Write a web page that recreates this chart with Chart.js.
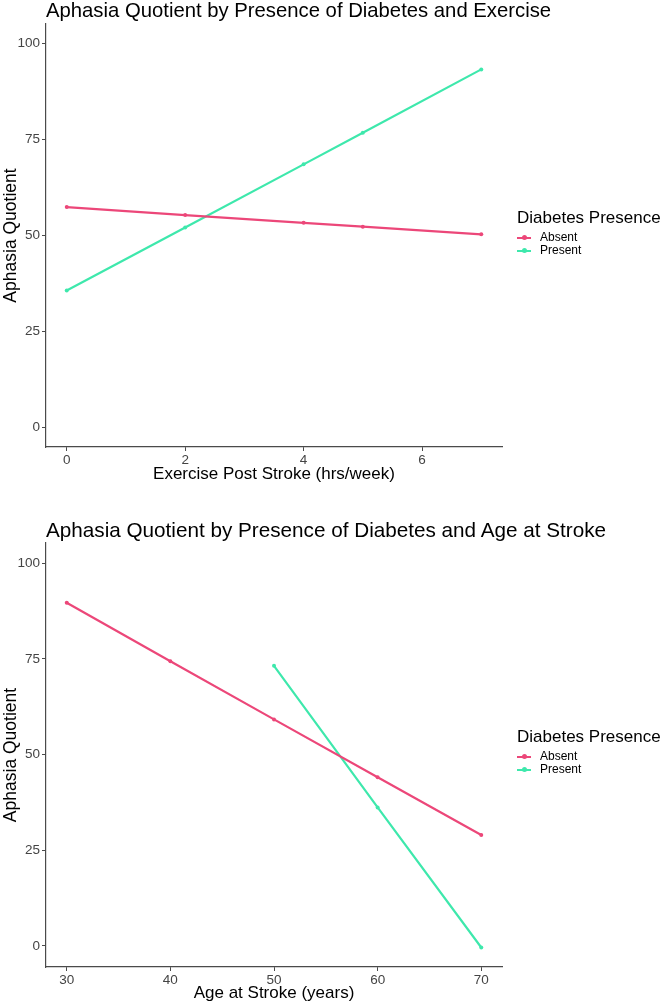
<!DOCTYPE html>
<html>
<head>
<meta charset="utf-8">
<script src="https://cdn.jsdelivr.net/npm/chart.js@4"></script>
<style>
  body { margin: 0; background: #fff; font-family: "Liberation Sans", Arial, sans-serif; overflow: hidden; }
  .panel { position: relative; width: 661px; }
  .title { position: absolute; left: 46px; font-size: 20.3px; line-height: 20px; color: #000; white-space: nowrap; }
  .legend { position: absolute; left: 517px; color: #000; }
  .legend .head { font-size: 17px; line-height: 20px; margin-bottom: 3px; }
  .legend .item { font-size: 12px; line-height: 13px; height: 13px; display: flex; align-items: center; }
  .legend .key { position: relative; width: 14px; height: 2px; margin-right: 9px; }
  .legend .key span { position: absolute; left: 5px; top: -1.5px; width: 5px; height: 5px; border-radius: 50%; }
</style>
</head>
<body>
<div class="panel" style="height:500px">
  <div class="title" style="top:0px">Aphasia Quotient by Presence of Diabetes and Exercise</div>
  <canvas id="exerciseChart" width="661" height="500"></canvas>
  <div class="legend" style="top:208px">
    <div class="head">Diabetes Presence</div>
    <div class="item"><div class="key" style="background:#ec4779"><span style="background:#ec4779"></span></div>Absent</div>
    <div class="item"><div class="key" style="background:#3ee8ac"><span style="background:#3ee8ac"></span></div>Present</div>
  </div>
</div>
<div class="panel" style="height:504px">
  <div class="title" style="top:20px; font-size:20.7px">Aphasia Quotient by Presence of Diabetes and Age at Stroke</div>
  <canvas id="ageChart" width="661" height="504"></canvas>
  <div class="legend" style="top:227px">
    <div class="head">Diabetes Presence</div>
    <div class="item"><div class="key" style="background:#ec4779"><span style="background:#ec4779"></span></div>Absent</div>
    <div class="item"><div class="key" style="background:#3ee8ac"><span style="background:#3ee8ac"></span></div>Present</div>
  </div>
</div>
<script>
// top chart: exercise hours
var exerciseHours = [0, 2, 4, 5, 7];
var exerciseAbsent = [57.4, 55.3, 53.3, 52.3, 50.3];
var exercisePresent = [35.7, 52.1, 68.5, 76.7, 93.2];
var exerciseTicks = [0, 2, 4, 6];

// bottom chart: age at stroke
var ageAbsentYears = [30, 40, 50, 60, 70];
var ageAbsent = [89.7, 74.4, 59.2, 44.1, 29.0];
var agePresentYears = [50, 60, 70];
var agePresent = [73.2, 36.2, -0.4];
var ageTicks = [30, 40, 50, 60, 70];

var quotientTicks = [0, 25, 50, 75, 100];

var absentColor = '#ec4779';
var presentColor = '#3ee8ac';
var fontFamily = '"Liberation Sans", Arial, sans-serif';

function toPoints(xs, ys) {
    return xs.map(function (x, i) { return { x: x, y: ys[i] }; });
}

function lineSet(label, xs, ys, color) {
    return {
        label: label,
        data: toPoints(xs, ys),
        borderColor: color,
        backgroundColor: color,
        borderWidth: 2.2,
        pointRadius: 2,
        pointHoverRadius: 2,
        pointBorderWidth: 0,
        tension: 0
    };
}

function makeChart(id, cfg) {
    var ctx = document.getElementById(id).getContext('2d');
    return new Chart(ctx, {
        type: 'line',
        data: {
            datasets: [
                lineSet('Absent', cfg.absentX, cfg.absentY, absentColor),
                lineSet('Present', cfg.presentX, cfg.presentY, presentColor)
            ]
        },
        options: {
            responsive: false,
            animation: false,
            devicePixelRatio: 1,
            layout: { padding: { left: 1, right: 159, top: cfg.top, bottom: cfg.bottom } },
            plugins: { legend: { display: false }, title: { display: false }, tooltip: { enabled: false } },
            scales: {
                x: {
                    type: 'linear',
                    min: cfg.xMin,
                    max: cfg.xMax,
                    afterBuildTicks: function (scale) {
                        scale.ticks = cfg.xTicks.map(function (v) { return { value: v }; });
                    },
                    afterFit: function (scale) { scale.height = cfg.xHeight; },
                    border: { display: true, color: '#4a4a4a', width: 1.2 },
                    grid: { drawOnChartArea: false, drawTicks: true, tickLength: 4, color: '#4a4a4a' },
                    ticks: { padding: 1, color: '#444', font: { family: fontFamily, size: 13.5 }, maxRotation: 0 },
                    title: {
                        display: true,
                        text: cfg.xTitle,
                        color: '#000',
                        padding: { top: 0, bottom: 0 },
                        font: { family: fontFamily, size: 17, lineHeight: 1 }
                    }
                },
                y: {
                    min: cfg.yMin,
                    max: cfg.yMax,
                    afterBuildTicks: function (scale) {
                        scale.ticks = quotientTicks.map(function (v) { return { value: v }; });
                    },
                    afterFit: function (scale) { scale.width = 45; },
                    border: { display: true, color: '#4a4a4a', width: 1.2 },
                    grid: { drawOnChartArea: false, drawTicks: true, tickLength: 4, color: '#4a4a4a' },
                    ticks: { padding: 2, color: '#444', font: { family: fontFamily, size: 13.5 } },
                    title: {
                        display: true,
                        text: 'Aphasia Quotient',
                        color: '#000',
                        padding: { top: 1, bottom: 0 },
                        font: { family: fontFamily, size: 17.5, lineHeight: 1 }
                    }
                }
            }
        }
    });
}

var exerciseChart = makeChart('exerciseChart', {
    absentX: exerciseHours, absentY: exerciseAbsent,
    presentX: exerciseHours, presentY: exercisePresent,
    xMin: -0.35, xMax: 7.35, xTicks: exerciseTicks,
    yMin: -5, yMax: 105,
    top: 24, bottom: 17, xHeight: 36,
    xTitle: 'Exercise Post Stroke (hrs/week)'
});

var ageChart = makeChart('ageChart', {
    absentX: ageAbsentYears, absentY: ageAbsent,
    presentX: agePresentYears, presentY: agePresent,
    xMin: 28, xMax: 72, xTicks: ageTicks,
    yMin: -5.5, yMax: 105.3,
    top: 43, bottom: 2, xHeight: 35,
    xTitle: 'Age at Stroke (years)'
});
</script>
</body>
</html>
